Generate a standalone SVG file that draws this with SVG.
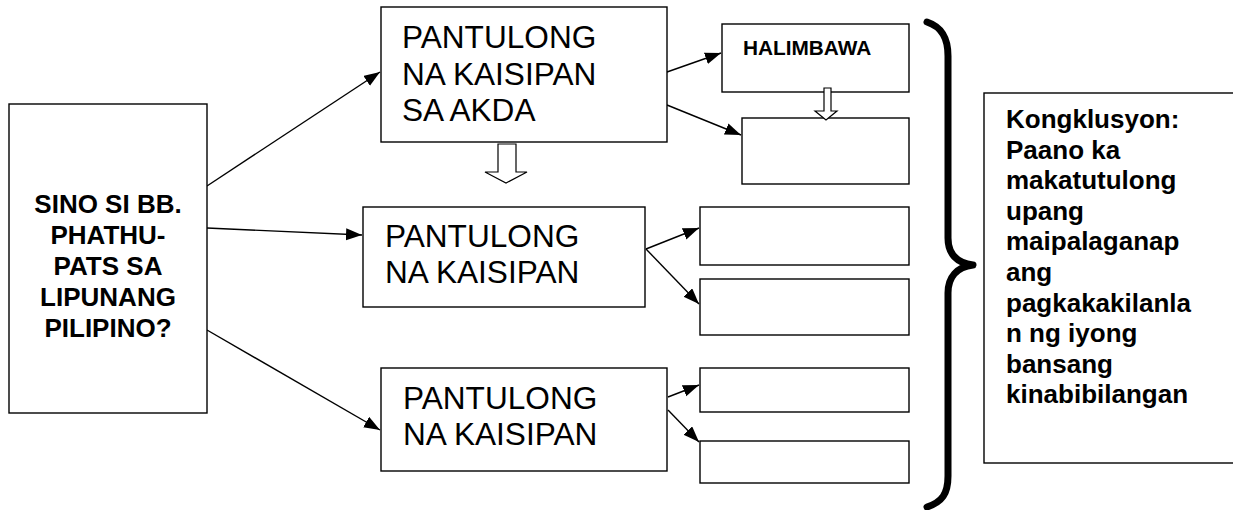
<svg xmlns="http://www.w3.org/2000/svg" width="1233" height="510" viewBox="0 0 1233 510">
  <style>
    .box { fill: #fff; stroke: #000; stroke-width: 1.4; }
    .conn { stroke: #000; stroke-width: 1.4; fill: none; marker-end: url(#arr); }
    .hollow { fill: #fff; stroke: #000; stroke-width: 1.2; stroke-linejoin: miter; }
    .bold { font-family: "Liberation Sans", Arial, sans-serif; font-weight: bold; fill: #000; }
    .reg { font-family: "Liberation Sans", Arial, sans-serif; font-size: 31.6px; fill: #000; }
  </style>
  <defs>
    <marker id="arr" markerUnits="userSpaceOnUse" markerWidth="17" markerHeight="13" refX="16" refY="6" orient="auto">
      <path d="M0,0 L16,6 L0,12 Z" fill="#000"/>
    </marker>
  </defs>
  <rect width="1233" height="510" fill="#fff"/>

  <g id="connectors">
    <line class="conn" x1="207" y1="186" x2="380" y2="72"/>
    <line class="conn" x1="207" y1="228" x2="362" y2="235"/>
    <line class="conn" x1="207" y1="330" x2="380" y2="430"/>
    <line class="conn" x1="667" y1="72" x2="721" y2="53"/>
    <line class="conn" x1="667" y1="105" x2="741" y2="135"/>
    <line class="conn" x1="646" y1="249" x2="699" y2="228"/>
    <line class="conn" x1="646" y1="249" x2="699" y2="304"/>
    <line class="conn" x1="668" y1="397" x2="699" y2="385"/>
    <line class="conn" x1="668" y1="410" x2="699" y2="442"/>
  </g>

  <g id="node-question">
    <rect class="box" x="9" y="104" width="198" height="309"/>
    <g class="bold" font-size="26" text-anchor="middle">
      <text x="108" y="213">SINO SI BB.</text>
      <text x="108" y="244">PHATHU-</text>
      <text x="108" y="275">PATS SA</text>
      <text x="108" y="306">LIPUNANG</text>
      <text x="108" y="337">PILIPINO?</text>
    </g>
  </g>

  <g id="node-pantulong-1">
    <rect class="box" x="381" y="7" width="286" height="135"/>
    <text class="reg" x="402" y="48">PANTULONG</text>
    <text class="reg" x="402" y="84.5">NA KAISIPAN</text>
    <text class="reg" x="402" y="121">SA AKDA</text>
  </g>

  <g id="node-pantulong-2">
    <rect class="box" x="363" y="207" width="282" height="100"/>
    <text class="reg" x="385" y="246.5">PANTULONG</text>
    <text class="reg" x="385" y="283">NA KAISIPAN</text>
  </g>

  <g id="node-pantulong-3">
    <rect class="box" x="381" y="368" width="286" height="103"/>
    <text class="reg" x="403" y="408.5">PANTULONG</text>
    <text class="reg" x="403" y="445">NA KAISIPAN</text>
  </g>

  <g id="node-halimbawa">
    <rect class="box" x="722" y="24" width="187" height="68"/>
    <text class="bold" font-size="20.8" x="743" y="55">HALIMBAWA</text>
  </g>
  <g id="node-example-1">
    <rect class="box" x="742" y="118" width="167" height="66"/>
  </g>
  <g id="node-example-2">
    <rect class="box" x="700" y="207" width="209" height="58"/>
  </g>
  <g id="node-example-3">
    <rect class="box" x="700" y="279" width="209" height="56"/>
  </g>
  <g id="node-example-4">
    <rect class="box" x="700" y="368" width="209" height="44"/>
  </g>
  <g id="node-example-5">
    <rect class="box" x="700" y="441" width="209" height="42"/>
  </g>

  <g id="block-arrows">
    <path class="hollow" d="M498,144 L516,144 L516,172 L527,172 L506,183 L485,172 L498,172 Z"/>
    <path class="hollow" d="M824,88 L831,88 L831,111 L837,111 L826,120 L815,111 L824,111 Z"/>
  </g>

  <g id="brace">
    <path d="M927,22 C942,27 948,38 948,56 L948,238 C948,254 957,263 973,265 C957,267 948,277 948,293 L948,476 C948,494 942,502 927,507" fill="none" stroke="#000" stroke-width="7" stroke-linecap="round" stroke-linejoin="round"/>
  </g>

  <g id="node-conclusion">
    <rect class="box" x="984" y="93" width="260" height="370"/>
    <g class="bold" font-size="26">
      <text x="1006" y="128">Kongklusyon:</text>
      <text x="1006" y="158.6">Paano ka</text>
      <text x="1006" y="189.2">makatutulong</text>
      <text x="1006" y="219.8">upang</text>
      <text x="1006" y="250.4">maipalaganap</text>
      <text x="1006" y="281">ang</text>
      <text x="1006" y="311.6">pagkakakilanla</text>
      <text x="1006" y="342.2">n ng iyong</text>
      <text x="1006" y="372.8">bansang</text>
      <text x="1006" y="403.4">kinabibilangan</text>
    </g>
  </g>
</svg>
